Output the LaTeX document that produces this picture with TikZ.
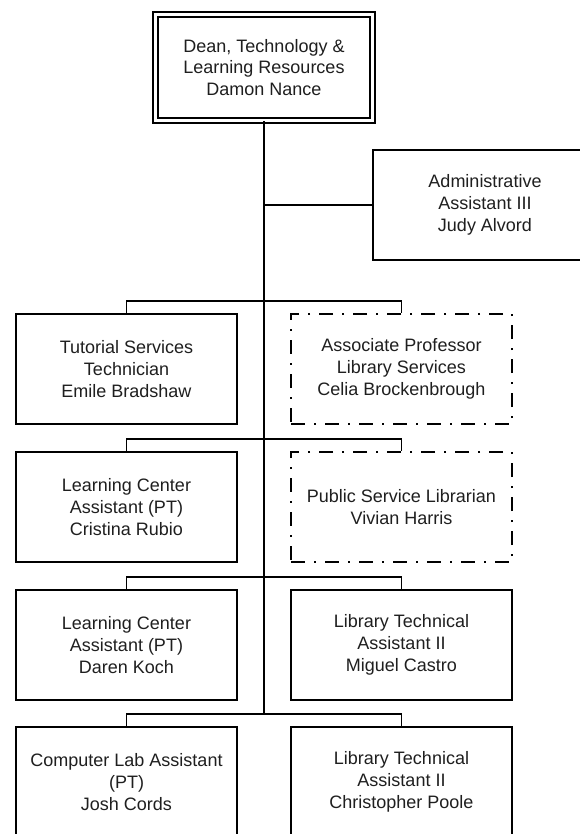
\documentclass[tikz,border=0pt]{standalone}
\usepackage{fontspec}
\setmainfont{Liberation Sans}
\begin{document}
\begin{tikzpicture}[x=1pt,y=1pt,
  every node/.style={font=\fontsize{18}{21.7}\selectfont, align=center, text=black!88, inner sep=0pt},
  role/.style={draw, line width=1.3pt, minimum width=221pt, minimum height=110pt},
  vacant/.style={role, dash pattern=on 14pt off 9pt on 2pt off 9pt},
  head/.style={draw, line width=1.3pt, double, double distance=3.7pt, minimum width=217pt, minimum height=106pt},
  link/.style={line width=1.3pt}]
\useasboundingbox (0,0) rectangle (580,-834);
\clip (0,0) rectangle (580,-834);
\fill[white] (0,0) rectangle (580,-834);

% dean
\node[head] (dean) at (264,-67.5) {Dean, Technology \&\\Learning Resources\\Damon Nance};
% staff assistant
\node[role, minimum width=224pt] (admin) at (485,-205) {Administrative\\Assistant III\\Judy Alvord};

% two columns of positions
\node[role]   (tut)   at (126.5,-369) {Tutorial Services\\Technician\\Emile Bradshaw};
\node[vacant] (assoc) at (401.5,-369) {Associate Professor\\Library Services\\Celia Brockenbrough};
\node[role]   (lca1)  at (126.5,-507) {Learning Center\\Assistant (PT)\\Cristina Rubio};
\node[vacant] (psl)   at (401.5,-507) {Public Service Librarian\\Vivian Harris};
\node[role]   (lca2)  at (126.5,-645) {Learning Center\\Assistant (PT)\\Daren Koch};
\node[role]   (lta1)  at (401.5,-645) {Library Technical\\Assistant II\\Miguel Castro};
\node[role]   (cla)   at (126.5,-782) {Computer Lab Assistant\\(PT)\\Josh Cords};
\node[role]   (lta2)  at (401.5,-782) {Library Technical\\Assistant II\\Christopher Poole};

% junctions on the trunk
\coordinate (j1) at (264,-301);
\coordinate (j2) at (264,-439);
\coordinate (j3) at (264,-577);
\coordinate (j4) at (264,-714);

% connectors
\draw[link] (dean.south) -- (j4);
\draw[link] (admin.west -| dean.south) -- (admin.west);
\draw[link] (tut.north)  |- (j1) -| (assoc.north);
\draw[link] (lca1.north) |- (j2) -| (psl.north);
\draw[link] (lca2.north) |- (j3) -| (lta1.north);
\draw[link] (cla.north)  |- (j4) -| (lta2.north);
\end{tikzpicture}
\end{document}
